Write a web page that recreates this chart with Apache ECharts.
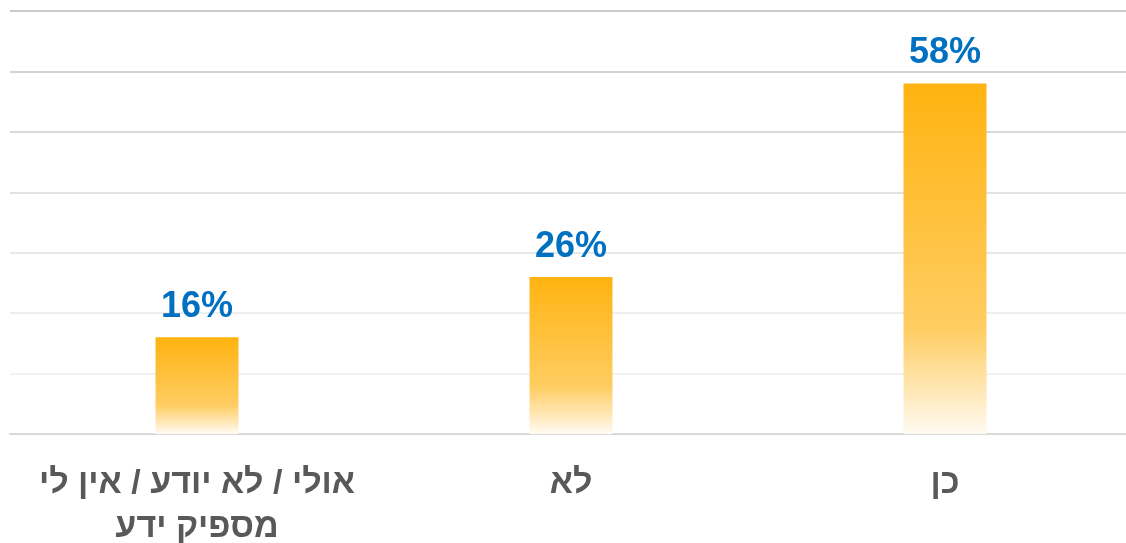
<!DOCTYPE html>
<html>
<head>
<meta charset="utf-8">
<script src="https://cdn.jsdelivr.net/npm/echarts@6/dist/echarts.min.js"></script>
<style>html,body{margin:0;padding:0;background:#fff;}#c{width:1126px;height:543px;}</style>
</head>
<body>
<div id="c"></div>
<script>
const categories = ['אולי / לא יודע / אין לי\nמספיק ידע', 'לא', 'כן'];
const values = [16, 26, 58];
const yTicks = [0, 10, 20, 30, 40, 50, 60, 70];

const chart = echarts.init(document.getElementById('c'));
chart.setOption({
  animation: false,
  grid: { left: 10, top: 11, bottom: 109, width: 1122, containLabel: false, outerBoundsMode: 'none' },
  xAxis: {
    type: 'category',
    data: categories,
    axisLine: { show: true, lineStyle: { color: '#d9d9d9', width: 2 } },
    axisTick: { show: false },
    axisLabel: {
      interval: 0,
      margin: 28,
      color: '#595959',
      fontSize: 34,
      fontWeight: 'bold',
      fontFamily: 'Liberation Sans, Arial, sans-serif',
      lineHeight: 44
    }
  },
  yAxis: {
    type: 'value',
    min: yTicks[0],
    max: yTicks[yTicks.length - 1],
    interval: 10,
    axisLabel: { show: false },
    axisLine: { show: false },
    axisTick: { show: false },
    splitLine: {
      show: true,
      lineStyle: {
        width: 2,
        color: ['#d9d9d9', '#f2f2f2', '#eeeeee', '#e8e8e8', '#e2e2e2', '#dadada', '#d2d2d2', '#cbcbcb']
      }
    }
  },
  series: [{
    type: 'bar',
    data: values,
    barWidth: 83,
    z: 1,
    itemStyle: {
      color: new echarts.graphic.LinearGradient(0, 0, 0, 1, [
        { offset: 0, color: '#FFB310' },
        { offset: 0.7, color: '#FFCD62' },
        { offset: 0.88, color: '#FFE8B8' },
        { offset: 1, color: '#FFFBF3' }
      ])
    },
    label: {
      show: true,
      position: 'top',
      distance: 12,
      formatter: '{c}%',
      color: '#0070C0',
      fontSize: 36,
      fontWeight: 'bold',
      fontFamily: 'Liberation Sans, Arial, sans-serif'
    }
  }]
});
</script>
</body>
</html>
